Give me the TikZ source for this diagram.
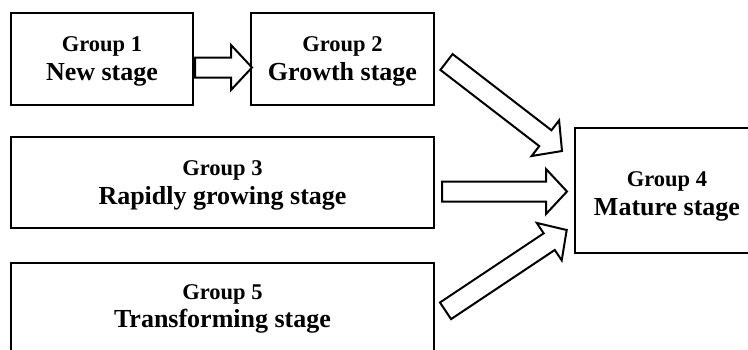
\documentclass[tikz,border=0pt]{standalone}
\usepackage{fontspec}
\setmainfont{Liberation Serif}
\usetikzlibrary{calc}
\tikzset{
  box/.style={draw, line width=2pt, outer sep=0pt, inner sep=0pt, align=center,
    text depth=0pt, font=\bfseries\fontsize{26}{29}\selectfont},
  arrowline/.style={draw, line width=2pt, fill=white, line join=miter},
}
\newcommand\smallline[1]{{\fontsize{22.5}{29}\selectfont #1}}
\newcommand\blockarrow[2]{%
  \coordinate (hb) at ($(#2)!21pt!(#1)$);
  \path[arrowline] ($(#1)!10pt!90:(#2)$) -- ($(hb)!10pt!90:(#2)$) -- ($(hb)!22.5pt!90:(#2)$)
    -- (#2) -- ($(hb)!22.5pt!-90:(#2)$) -- ($(hb)!10pt!-90:(#2)$) -- ($(#1)!10pt!-90:(#2)$) -- cycle;
}
\begin{document}
\begin{tikzpicture}[x=1pt, y=-1pt]
  \clip (0,0) rectangle (748,349);
  \fill[white] (0,0) rectangle (748,349);
  \node[box, minimum width=182, minimum height=92] (b1) at (102,59) {\smallline{Group 1}\\New stage};
  \node[box, minimum width=183, minimum height=92] (b2) at (342.5,59) {\smallline{Group 2}\\Growth stage};
  \node[box, minimum width=423, minimum height=91] (b3) at (222.5,182.5) {\smallline{Group 3}\\Rapidly growing stage};
  \node[box, minimum width=423, minimum height=120, text depth=33.4pt] (b5) at (222.5,323) {\smallline{Group 5}\\[-1.4pt]Transforming stage};
  \node[box, minimum width=184, minimum height=125, text height=49pt] (b4) at (667,190.5) {\smallline{Group 4}\\Mature stage};
  % arrow end points
  \coordinate (a12s) at ($(b1.east)+(2,8.5)$);
  \coordinate (a12e) at ($(b2.west)+(1,8.5)$);
  \coordinate (a34s) at ($(b3.east)+(8,9)$);
  \coordinate (a34e) at ($(b4.west)+(-8,1)$);
  \coordinate (a24s) at ($(b2.east)+(12.5,3)$);
  \coordinate (a24e) at ($(b4.west)+(-13,-39.5)$);
  \coordinate (a54s) at ($(b5.east)+(11.5,-12.2)$);
  \coordinate (a54e) at ($(b4.west)+(-8.3,39.5)$);
  \blockarrow{a12s}{a12e}
  \blockarrow{a34s}{a34e}
  \blockarrow{a24s}{a24e}
  \blockarrow{a54s}{a54e}
\end{tikzpicture}
\end{document}
